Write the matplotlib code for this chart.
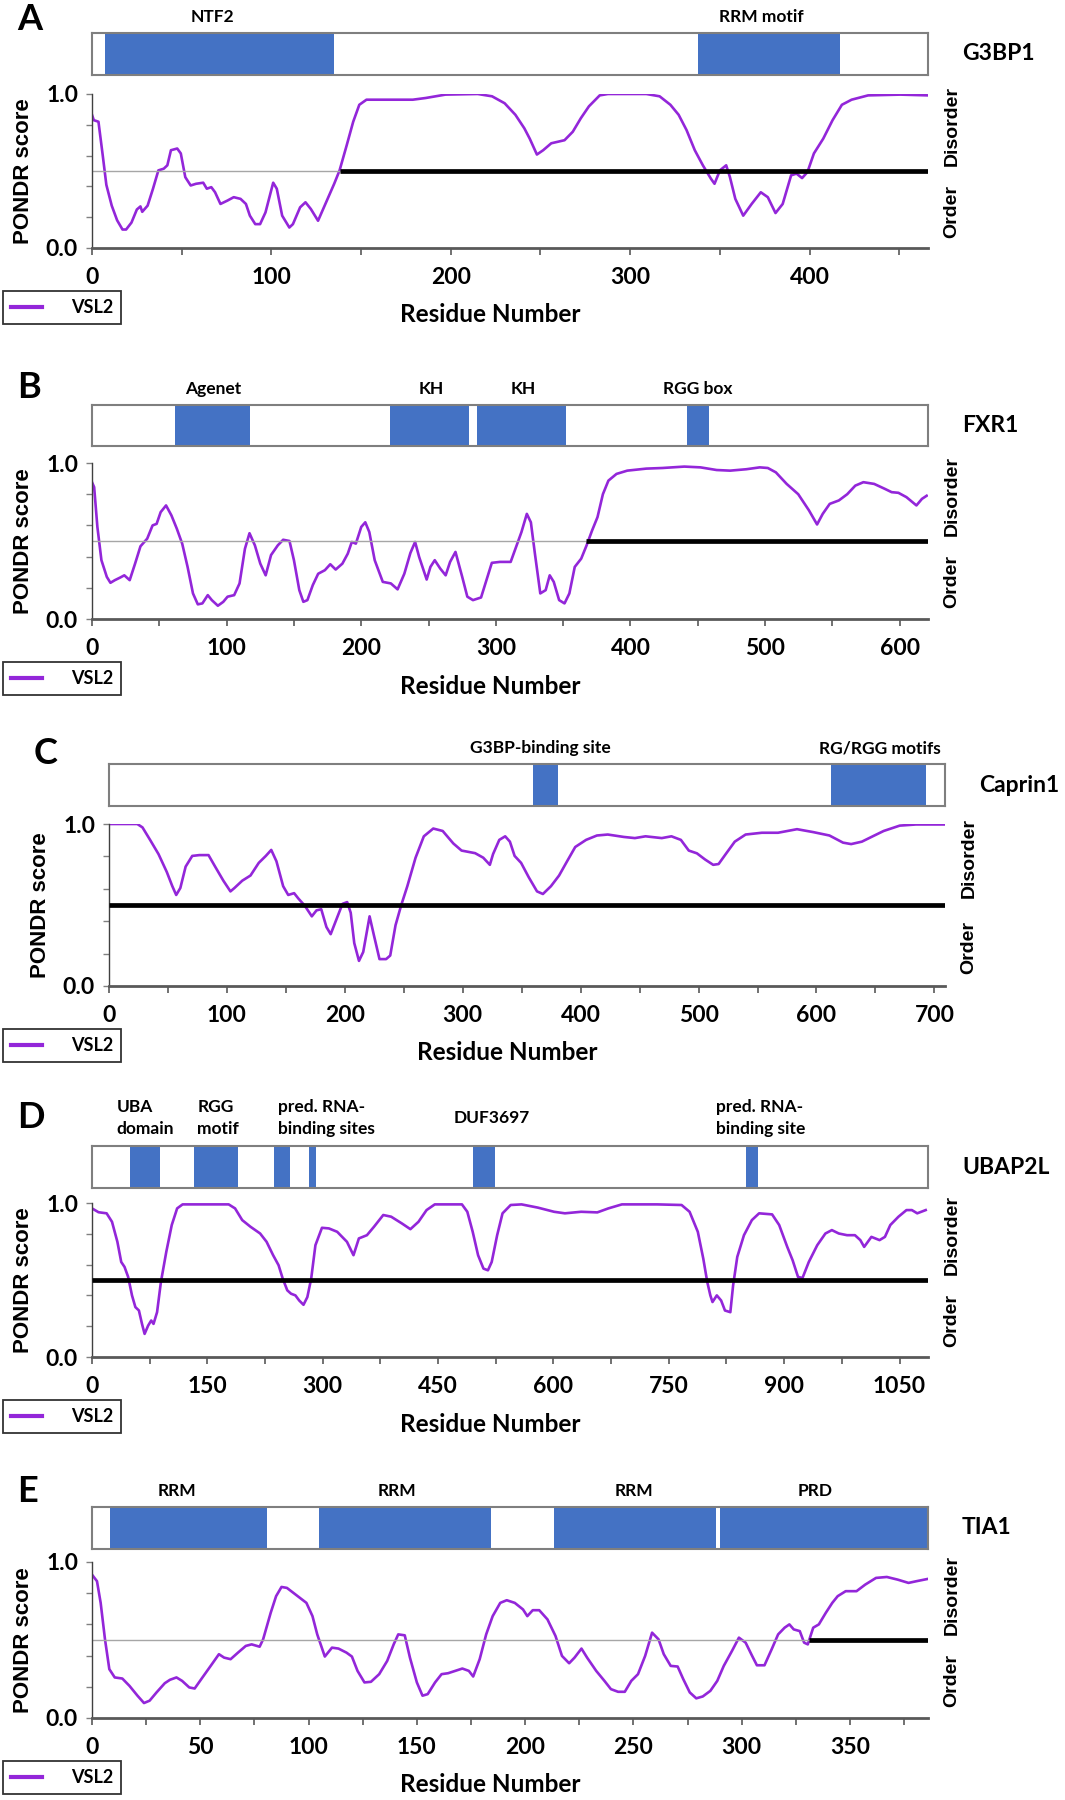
import numpy as np
import matplotlib.pyplot as plt
from matplotlib.lines import Line2D
from matplotlib.ticker import MultipleLocator, FixedLocator

# ---------------- data ----------------
panel_letters = ["A", "B", "C", "D", "E"]
protein_names = ["G3BP1", "FXR1", "Caprin1", "UBAP2L", "TIA1"]
protein_lengths = [466, 621, 709, 1087, 386]
xtick_steps = [100, 100, 100, 150, 50]
long_disorder_start = [138, 367, 0, 0, 331]   # start of the black bar at 0.5

g3bp1_res = [0, 1, 3.6, 6, 8, 11, 14, 17, 19, 22, 25, 27, 28, 31, 34, 37, 40, 42, 44, 47.5,
             49.5, 52, 55, 58, 62, 64, 66.5, 68.6, 71.6, 75.5, 79, 82.8, 85.8, 88, 91, 93.7,
             96.7, 101, 103, 106, 110, 112, 116, 119, 122, 126, 130.5, 135, 138, 142, 145.6,
             149, 153, 160.7, 178.8, 186, 197, 215, 223, 230, 236, 241, 244, 248, 251.5, 256,
             263.4, 268, 272.5, 277, 283, 287.6, 309, 316.4, 322.4, 327, 331.4, 336, 340.5,
             345, 347, 350, 353.5, 355.6, 358.6, 363, 367.7, 372.8, 376.7, 381, 385, 389.7,
             392.7, 395.8, 398.8, 402.4, 407.6, 412.8, 418, 423.4, 432.6, 450.6, 466]
g3bp1_vsl2 = [0.865, 0.83, 0.82, 0.60, 0.41, 0.275, 0.18, 0.12, 0.12, 0.165, 0.25, 0.27, 0.235,
              0.275, 0.385, 0.504, 0.515, 0.537, 0.635, 0.646, 0.614, 0.46, 0.406, 0.417, 0.424,
              0.385, 0.395, 0.362, 0.286, 0.308, 0.33, 0.319, 0.286, 0.21, 0.155, 0.155, 0.231,
              0.424, 0.385, 0.21, 0.133, 0.155, 0.264, 0.297, 0.253, 0.177, 0.297, 0.417, 0.504,
              0.668, 0.82, 0.93, 0.963, 0.963, 0.963, 0.974, 0.996, 1.0, 0.985, 0.94, 0.865,
              0.777, 0.71, 0.607, 0.635, 0.68, 0.70, 0.755, 0.843, 0.92, 0.991, 1.0, 1.0, 0.985,
              0.93, 0.865, 0.766, 0.635, 0.537, 0.45, 0.417, 0.504, 0.537, 0.46, 0.319, 0.21,
              0.286, 0.362, 0.33, 0.227, 0.286, 0.472, 0.483, 0.454, 0.493, 0.614, 0.71, 0.83,
              0.93, 0.963, 0.991, 0.996, 0.991]

fxr1_res = [0, 1.6, 4, 7, 11, 13.7, 17, 21, 24, 28, 32, 36, 41, 45, 48, 51, 55, 59, 63, 67, 71,
            75, 78.6, 82, 86, 89, 93.5, 97.5, 100.7, 105.6, 109.6, 113.6, 117, 121, 125, 129,
            133, 138, 142, 146.7, 150, 154, 157, 160, 164, 168, 173, 177, 181, 186, 190, 193,
            196, 200, 203, 206, 210, 216, 222, 227, 232, 236.5, 240, 243, 248.6, 251.4, 254.6,
            258.7, 262.7, 266, 270, 275, 278.8, 283, 289, 293, 297, 303, 311, 315, 319, 323,
            326, 329, 333, 337, 340, 343, 347, 351, 354.6, 358.6, 363.4, 367.4, 371.5, 375.5,
            379.5, 383.6, 389.6, 397.6, 411.7, 423.8, 440, 452, 464, 474, 486, 496, 502, 508,
            516, 524.6, 532.6, 538.6, 542.8, 548, 554.8, 561, 567, 573, 581, 589, 594, 599, 605,
            612.4, 616.5, 620]
fxr1_vsl2 = [0.877, 0.845, 0.59, 0.377, 0.27, 0.232, 0.249, 0.266, 0.28, 0.249, 0.355, 0.466,
             0.515, 0.60, 0.61, 0.685, 0.728, 0.664, 0.579, 0.483, 0.334, 0.164, 0.094, 0.10,
             0.153, 0.121, 0.085, 0.11, 0.143, 0.153, 0.228, 0.45, 0.55, 0.472, 0.355, 0.28,
             0.41, 0.472, 0.508, 0.50, 0.377, 0.185, 0.11, 0.121, 0.217, 0.29, 0.313, 0.351,
             0.317, 0.355, 0.419, 0.494, 0.483, 0.59, 0.62, 0.557, 0.377, 0.238, 0.228, 0.19,
             0.29, 0.423, 0.494, 0.398, 0.253, 0.334, 0.377, 0.323, 0.28, 0.366, 0.43, 0.27,
             0.143, 0.121, 0.138, 0.249, 0.36, 0.366, 0.366, 0.462, 0.557, 0.674, 0.62, 0.419,
             0.164, 0.185, 0.28, 0.238, 0.121, 0.10, 0.164, 0.334, 0.387, 0.472, 0.568, 0.653,
             0.80, 0.887, 0.93, 0.951, 0.964, 0.968, 0.977, 0.972, 0.955, 0.951, 0.96, 0.972,
             0.968, 0.94, 0.866, 0.80, 0.696, 0.606, 0.674, 0.738, 0.76, 0.80, 0.855, 0.877,
             0.866, 0.834, 0.813, 0.809, 0.781, 0.728, 0.77, 0.79]

caprin1_res = [0, 24, 28.4, 35, 42, 49, 53.7, 57, 60.5, 65, 70.6, 76.6, 84.4, 90, 97, 103, 106.4,
               113, 120, 127, 133, 137.6, 142, 147.7, 152, 157, 160.6, 166, 172, 176, 180,
               184.4, 188, 192.7, 198, 202, 205, 208, 212, 215.6, 221, 224.8, 229.4, 235, 238.5,
               243, 247.7, 253, 260, 267, 275, 283, 292, 299, 310.5, 317.4, 323, 325.7, 331,
               336, 340, 344, 349.5, 356, 363, 368, 374.8, 381.7, 388.5, 395.4, 404.6, 413.8,
               423, 436.7, 446, 455, 468.8, 477, 485, 491.7, 498.6, 505.5, 512.4, 517, 523,
               530.7, 539.9, 553.7, 567.4, 583.5, 597.2, 611, 622.5, 629.4, 638.5, 647.7, 657,
               670.6, 684.4, 709]
caprin1_vsl2 = [1.0, 1.0, 0.979, 0.90, 0.814, 0.704, 0.616, 0.562, 0.605, 0.737, 0.803, 0.808,
                0.808, 0.737, 0.65, 0.584, 0.605, 0.65, 0.682, 0.76, 0.803, 0.84, 0.77, 0.616,
                0.562, 0.573, 0.54, 0.496, 0.43, 0.467, 0.474, 0.364, 0.32, 0.408, 0.507, 0.518,
                0.452, 0.265, 0.155, 0.21, 0.43, 0.309, 0.166, 0.166, 0.188, 0.375, 0.496, 0.616,
                0.792, 0.924, 0.972, 0.957, 0.88, 0.836, 0.82, 0.792, 0.748, 0.814, 0.902, 0.924,
                0.891, 0.803, 0.76, 0.671, 0.584, 0.568, 0.616, 0.682, 0.77, 0.858, 0.902, 0.929,
                0.935, 0.92, 0.913, 0.924, 0.913, 0.924, 0.902, 0.836, 0.819, 0.781, 0.748,
                0.753, 0.814, 0.891, 0.935, 0.946, 0.946, 0.968, 0.95, 0.929, 0.885, 0.876, 0.891,
                0.924, 0.957, 0.99, 0.997, 0.997]

ubap2l_res = [0, 8.5, 19, 26, 33, 38, 42.3, 47, 52, 56.4, 61, 65, 68.4, 73, 77, 80, 84.6, 89.6,
              96.6, 103.7, 110.7, 117.8, 149.5, 177.7, 186, 195.3, 206, 218.6, 227, 235.5,
              242.6, 248, 253.9, 258.8, 264.5, 269.4, 275, 280, 285, 290.5, 299, 308, 318.8,
              331.5, 340, 347, 357.5, 366.7, 378.7, 389, 403, 414, 424.5, 435, 445.7, 481, 488,
              495, 502, 509, 514.8, 519.7, 526.8, 533.8, 544.4, 558.5, 579.7, 600.8, 614.9, 636,
              657, 671.4, 689, 734.8, 766.6, 777, 787.7, 794.8, 800, 804, 806.8, 812.4, 818,
              823, 830, 833.6, 839, 847.7, 858, 867.4, 884.3, 893.5, 904, 911, 918, 923.8, 932,
              943, 953.6, 962, 971, 981.7, 992, 999, 1004, 1013.4, 1024, 1031, 1038, 1048.6,
              1059, 1066, 1073, 1084]
ubap2l_vsl2 = [0.965, 0.94, 0.933, 0.878, 0.748, 0.617, 0.585, 0.52, 0.40, 0.324, 0.302, 0.215,
               0.15, 0.204, 0.237, 0.215, 0.291, 0.487, 0.683, 0.857, 0.965, 0.991, 0.991, 0.991,
               0.965, 0.889, 0.846, 0.802, 0.748, 0.661, 0.596, 0.509, 0.433, 0.411, 0.40, 0.367,
               0.339, 0.389, 0.509, 0.726, 0.839, 0.835, 0.813, 0.748, 0.661, 0.77, 0.791, 0.846,
               0.922, 0.911, 0.867, 0.83, 0.878, 0.954, 0.991, 0.991, 0.943, 0.813, 0.661, 0.574,
               0.563, 0.617, 0.791, 0.933, 0.987, 0.991, 0.97, 0.943, 0.933, 0.943, 0.939, 0.965,
               0.991, 0.991, 0.987, 0.943, 0.813, 0.639, 0.487, 0.40, 0.357, 0.40, 0.367, 0.302,
               0.291, 0.465, 0.65, 0.791, 0.889, 0.933, 0.926, 0.857, 0.715, 0.628, 0.52, 0.513,
               0.617, 0.726, 0.802, 0.824, 0.802, 0.791, 0.791, 0.759, 0.715, 0.78, 0.759, 0.78,
               0.857, 0.911, 0.954, 0.954, 0.933, 0.954]

tia1_res = [0, 2.3, 4, 6, 8, 10.5, 14, 17.3, 21, 24, 26.6, 29.8, 33.6, 36, 39, 41.6, 44.9, 47.4,
            51, 55, 58.6, 61, 64, 67.4, 71, 73.7, 77.4, 79, 82.5, 85, 87.5, 90, 93, 96, 99,
            101.8, 104, 107.5, 110.8, 113.8, 117.5, 120, 122.6, 125.8, 128.8, 132.6, 136.3,
            139.3, 141.4, 144.4, 146.8, 150, 152.6, 155, 158.4, 161.4, 164.4, 167.7, 171, 174,
            176, 179, 182, 185, 188.5, 191.5, 195.2, 199, 201, 203.5, 206.5, 210.3, 214, 217,
            220.3, 222.8, 226, 228.6, 232.8, 236.6, 239.6, 242.9, 246, 249, 252.1, 255.4, 258.6,
            261.6, 264, 267.2, 270.4, 273, 276, 279, 282, 285.5, 288.7, 291.7, 295.5, 298.7,
            301.8, 304.8, 307, 310.5, 313.8, 316.8, 319.8, 322, 324, 326.8, 328.8, 330.5, 333,
            335.6, 338.8, 341.8, 344.3, 348, 353, 357, 362, 367, 372, 377, 380.7, 385.7]
tia1_vsl2 = [0.919, 0.877, 0.738, 0.504, 0.313, 0.26, 0.253, 0.206, 0.143, 0.096, 0.111, 0.164,
             0.223, 0.245, 0.26, 0.238, 0.196, 0.189, 0.26, 0.338, 0.409, 0.387, 0.377, 0.419,
             0.462, 0.472, 0.457, 0.504, 0.674, 0.781, 0.84, 0.834, 0.802, 0.77, 0.738, 0.653,
             0.536, 0.394, 0.451, 0.445, 0.419, 0.394, 0.302, 0.228, 0.232, 0.281, 0.366, 0.472,
             0.536, 0.53, 0.387, 0.228, 0.143, 0.153, 0.228, 0.281, 0.287, 0.302, 0.317, 0.302,
             0.266, 0.377, 0.536, 0.653, 0.738, 0.755, 0.738, 0.696, 0.653, 0.691, 0.691, 0.632,
             0.526, 0.398, 0.351, 0.387, 0.445, 0.387, 0.302, 0.238, 0.185, 0.168, 0.168, 0.238,
             0.281, 0.398, 0.547, 0.504, 0.409, 0.334, 0.33, 0.249, 0.164, 0.126, 0.138, 0.174,
             0.238, 0.334, 0.43, 0.515, 0.483, 0.398, 0.338, 0.338, 0.44, 0.536, 0.579, 0.60,
             0.568, 0.557, 0.483, 0.472, 0.579, 0.60, 0.674, 0.738, 0.781, 0.813, 0.813, 0.855,
             0.898, 0.904, 0.887, 0.866, 0.877, 0.891]

# domains: (start, end)
g3bp1_domains = [(7, 135), (338, 417)]
fxr1_domains = [(62, 117), (221, 280), (286, 352), (442, 458)]
caprin1_domains = [(360, 381), (612, 693)]
ubap2l_domains = [(49, 88), (132, 190), (237, 257), (282, 291), (495, 524), (850, 866)]
tia1_domains = [(8.5, 81), (105, 184), (213.5, 288), (290, 386)]

# domain labels: (text, residue position)
g3bp1_labels = [("NTF2", 67), ("RRM motif", 373)]
fxr1_labels = [("Agenet", 90), ("KH", 252), ("KH", 320), ("RGG box", 450)]
caprin1_labels = [("G3BP-binding site", 366), ("RG/RGG motifs", 654)]
ubap2l_labels = [("UBA\ndomain", 69), ("RGG\nmotif", 164), ("pred. RNA-\nbinding sites", 305),
                 ("DUF3697", 520), ("pred. RNA-\nbinding site", 869)]
tia1_labels = [("RRM", 39), ("RRM", 141), ("RRM", 250), ("PRD", 334)]

all_res = [g3bp1_res, fxr1_res, caprin1_res, ubap2l_res, tia1_res]
all_vsl2 = [g3bp1_vsl2, fxr1_vsl2, caprin1_vsl2, ubap2l_vsl2, tia1_vsl2]
all_domains = [g3bp1_domains, fxr1_domains, caprin1_domains, ubap2l_domains, tia1_domains]
all_labels = [g3bp1_labels, fxr1_labels, caprin1_labels, ubap2l_labels, tia1_labels]

# ---------------- layout (pixels in a 1065x1800 canvas) ----------------
W, H = 1065, 1800
# (left, box_top, box_bottom, plot_top, plot_bottom, right, letter_y)
layout = [
    (92, 33, 75, 94, 248, 928, 20),
    (92, 405, 446, 463, 619, 928, 388),
    (109, 764, 806, 824, 986, 945, 753),
    (92, 1146, 1188, 1203, 1357, 928, 1117),
    (92, 1507, 1549, 1562, 1718, 928, 1492),
]

PURPLE = "#9326D9"
BLUE = "#4472C4"
CAL = ["Lato", "DejaVu Sans"]
ARIAL = ["Liberation Sans", "DejaVu Sans"]


def add_px_axes(fig, l, t, r, b):
    return fig.add_axes([l / W, 1 - b / H, (r - l) / W, (b - t) / H])


fig = plt.figure(figsize=(W / 100, H / 100), dpi=100)

for i in range(5):
    l, bt, bb, pt, pb, r, ly = layout[i]
    length = protein_lengths[i]

    # domain bar
    axb = add_px_axes(fig, l, bt, r, bb)
    axb.set_xlim(0, length)
    axb.set_ylim(0, 1)
    for s, e in all_domains[i]:
        axb.axvspan(s, e, color=BLUE, lw=0)
    for sp in axb.spines.values():
        sp.set_color("#7f7f7f")
        sp.set_linewidth(1.5)
    axb.set_xticks([])
    axb.set_yticks([])
    box_h = bb - bt
    for txt, pos in all_labels[i]:
        nlines = txt.count("\n") + 1
        yoff = 1 + (16 / box_h if nlines == 1 else 28 / box_h)
        if i == 3 and nlines == 1:
            yoff = 1 + 28 / box_h
        axb.text(pos, yoff, txt, transform=axb.get_xaxis_transform(), ha="center",
                 va="center", multialignment="left", linespacing=1.45,
                 family=CAL, weight="bold", size=12.5)
    axb.text(1.0407, 0.5, protein_names[i], transform=axb.transAxes, ha="left",
             va="center", family=CAL, weight="bold", size=16.5)

    # panel letter
    fig.text((l - 75) / W, 1 - ly / H, panel_letters[i], ha="left", va="center",
             family=CAL, weight="bold", size=26)

    # disorder plot
    ax = add_px_axes(fig, l, pt, r, pb)
    ax.plot(all_res[i], all_vsl2[i], color=PURPLE, lw=1.9, label="VSL2")
    ax.axhline(0.5, color="#a6a6a6", lw=1.0)
    ax.hlines(0.5, long_disorder_start[i], length, color="black", lw=3.4, zorder=3)
    ax.set_xlim(0, length)
    ax.set_ylim(0, 1)
    ax.spines["top"].set_visible(False)
    ax.spines["right"].set_visible(False)
    ax.spines["left"].set_color("#404040")
    ax.spines["left"].set_linewidth(1.0)
    ax.spines["bottom"].set_color("#595959")
    ax.spines["bottom"].set_linewidth(2.0)

    step = xtick_steps[i]
    ax.xaxis.set_major_locator(MultipleLocator(step))
    ax.xaxis.set_minor_locator(MultipleLocator(step / 2))
    ax.yaxis.set_major_locator(FixedLocator([0, 1]))
    ax.yaxis.set_minor_locator(FixedLocator([0.2, 0.4, 0.6, 0.8]))
    ax.set_yticklabels(["0.0", "1.0"])
    ax.tick_params(axis="x", which="both", direction="out", length=5, width=1.2,
                   color="#595959", pad=9)
    ax.tick_params(axis="y", which="both", direction="out", length=4, width=1,
                   color="#808080", pad=6)
    for lab in ax.get_xticklabels() + ax.get_yticklabels():
        lab.set_family(CAL)
        lab.set_weight("bold")
        lab.set_size(16.5)

    ph = pb - pt
    ax.text(0.476, -67 / ph, "Residue Number", transform=ax.transAxes, ha="center",
            va="center", family=CAL, weight="bold", size=17.5)
    ax.text(-68 / 836, 0.5, "PONDR score", transform=ax.transAxes, rotation=90,
            ha="center", va="center", family=ARIAL, weight="bold", size=16)
    ax.text(1.029, 0.79, "Disorder", transform=ax.transAxes, rotation=90,
            ha="center", va="center", family=ARIAL, weight="bold", size=14)
    ax.text(1.029, 0.24, "Order", transform=ax.transAxes, rotation=90,
            ha="center", va="center", family=ARIAL, weight="bold", size=14)

    leg = ax.legend(handles=[Line2D([], [], color=PURPLE, lw=3)], labels=["VSL2"],
                    loc="upper left", bbox_to_anchor=(3 / W, 1 - (pb + 43) / H),
                    bbox_transform=fig.transFigure, borderaxespad=0, fancybox=False,
                    edgecolor="black", handlelength=1.7, handletextpad=1.6,
                    borderpad=0.45, prop=dict(family=CAL, weight="bold", size=13))
    leg.get_frame().set_linewidth(1.3)

fig.savefig("out.png", dpi=100, facecolor="white")
